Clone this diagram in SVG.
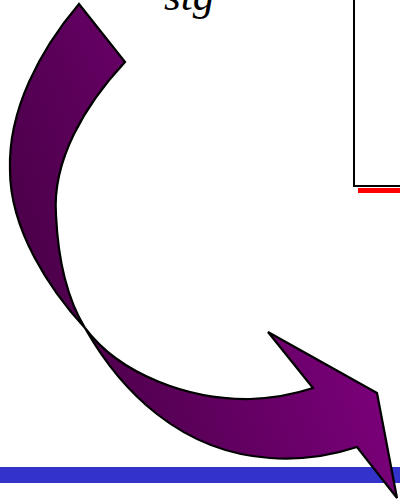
<svg xmlns="http://www.w3.org/2000/svg" width="400" height="501" viewBox="0 0 400 501">
<defs>
<linearGradient id="pg" gradientUnits="userSpaceOnUse" x1="30" y1="330" x2="390" y2="200">
<stop offset="0" stop-color="#480046"/>
<stop offset="1" stop-color="#860086"/>
</linearGradient>
<style>
text{font-family:"Liberation Serif","Times New Roman",serif;font-style:italic;font-size:43px;fill:#000}
</style>
</defs>
<rect width="400" height="501" fill="#fff"/>
<g id="box">
<rect x="358" y="188" width="44" height="5" fill="#ff0000"/>
<path d="M354,-2 L354,186 L402,186" fill="#fff" stroke="#000" stroke-width="2"/>
</g>
<g id="bar">
<rect x="0" y="467" width="400" height="16" fill="#3333cc"/>
</g>
<g id="label">
<text x="164" y="10" font-family="Liberation Serif, serif" font-style="italic">stg</text>
</g>
<g id="arrow">
<path d="M79,4 L125,62 C85,105 52,160 56,215 C58,260 68,300 85,328 C120,375 190,400 250,399 C275,398 295,394 313,388 L268,332 L377,393 L397,498 L357,447 C330,456 300,460 270,458 C180,452 120,390 85,328 C50,290 10,230 10,170 C8,110 40,50 79,4 Z" fill="url(#pg)" stroke="#000" stroke-width="2.2" stroke-linejoin="miter"/>
</g>
</svg>
